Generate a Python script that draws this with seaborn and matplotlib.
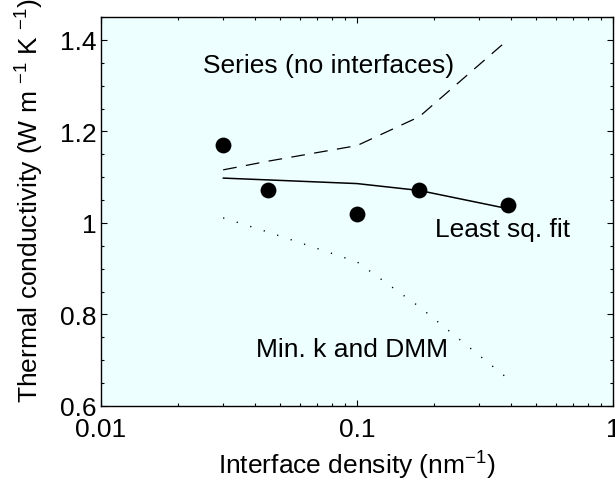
import numpy as np
import pandas as pd
import matplotlib
matplotlib.use("Agg")
import matplotlib.pyplot as plt
from matplotlib.ticker import FixedLocator, MultipleLocator, LogLocator, NullFormatter, FixedFormatter
import seaborn as sns

# data
density = [0.03, 0.045, 0.1, 0.175, 0.39]
measured_k = [1.17, 1.071, 1.020, 1.071, 1.04]
fit_k = [1.098, 1.094, 1.086, 1.071, 1.031]
series_k = [1.116, 1.135, 1.169, 1.232, 1.401]
mink_k = [1.011, 0.980, 0.915, 0.817, 0.659]

x_ticks = [0.01, 0.1, 1]
x_ticklabels = ["0.01", "0.1", "1"]
y_ticks = [0.6, 0.8, 1.0, 1.2, 1.4]
y_ticklabels = ["0.6", "0.8", "1", "1.2", "1.4"]

sns.set_theme(style="ticks")
plt.rcParams["font.family"] = ["Liberation Sans", "DejaVu Sans"]
plt.rcParams["mathtext.fontset"] = "custom"
plt.rcParams["mathtext.rm"] = "Liberation Sans"
plt.rcParams["mathtext.it"] = "Liberation Sans:italic"
plt.rcParams["mathtext.bf"] = "Liberation Sans:bold"
plt.rcParams["axes.unicode_minus"] = True
for k in ["text.color", "axes.labelcolor", "xtick.color", "ytick.color",
          "xtick.labelcolor", "ytick.labelcolor"]:
    plt.rcParams[k] = "black"

FS = 19

fig = plt.figure(figsize=(6.15, 4.89), dpi=100)
ax = fig.add_axes([101 / 615, 1 - 407 / 489, 512 / 615, 389 / 489])
ax.set_facecolor("#EEFFFF")
fig.patch.set_facecolor("white")

df = pd.DataFrame({"x": density, "measured": measured_k, "fit": fit_k,
                   "series": series_k, "mink": mink_k})

sns.lineplot(data=df, x="x", y="series", ax=ax, color="black", lw=0.9,
             sort=False, estimator=None)
ax.lines[-1].set_dashes([11, 7.5])
sns.lineplot(data=df, x="x", y="fit", ax=ax, color="black", lw=1.1,
             sort=False, estimator=None)
sns.lineplot(data=df, x="x", y="mink", ax=ax, color="black", lw=1.0,
             sort=False, estimator=None)
ax.lines[-1].set_dashes([0.9, 9.3])
sns.scatterplot(data=df, x="x", y="measured", ax=ax, color="black", s=130,
                edgecolor="black", linewidth=0, zorder=5)

ax.set_xscale("log")
ax.set_xlim(0.01, 1)
ax.set_ylim(0.6, 1.45)

ax.xaxis.set_major_locator(FixedLocator(x_ticks))
ax.xaxis.set_major_formatter(FixedFormatter(x_ticklabels))
ax.xaxis.set_minor_locator(LogLocator(base=10, subs=np.arange(2, 10)))
ax.xaxis.set_minor_formatter(NullFormatter())
ax.yaxis.set_major_locator(FixedLocator(y_ticks))
ax.yaxis.set_major_formatter(FixedFormatter(y_ticklabels))
ax.yaxis.set_minor_locator(MultipleLocator(0.05))

ax.tick_params(which="both", direction="in", top=True, right=True,
               color="black", width=0.8)
ax.tick_params(which="major", length=4, labelsize=FS, labelcolor="black")
ax.tick_params(which="minor", length=2.2)
ax.tick_params(axis="x", which="major", pad=8)
ax.tick_params(axis="y", which="major", pad=3)

for s in ax.spines.values():
    s.set_color("black")
    s.set_linewidth(1.0)

ax.set_xlabel("Interface density (nm$^{-1}$)", fontsize=FS, color="black")
ax.set_ylabel("Thermal conductivity (W m $^{-1}$ K $^{-1}$)", fontsize=FS, color="black")
ax.xaxis.set_label_coords(0.5, -0.11)
ax.yaxis.set_label_coords(-0.108, 0.53)

ax.text(0.02494, 1.330, "Series (no interfaces)", fontsize=FS, ha="left", va="baseline")
ax.text(0.2018, 0.9716, "Least sq. fit", fontsize=FS, ha="left", va="baseline")
ax.text(0.0403, 0.710, "Min. k and DMM", fontsize=FS, ha="left", va="baseline")

fig.savefig("out.png", dpi=100)
